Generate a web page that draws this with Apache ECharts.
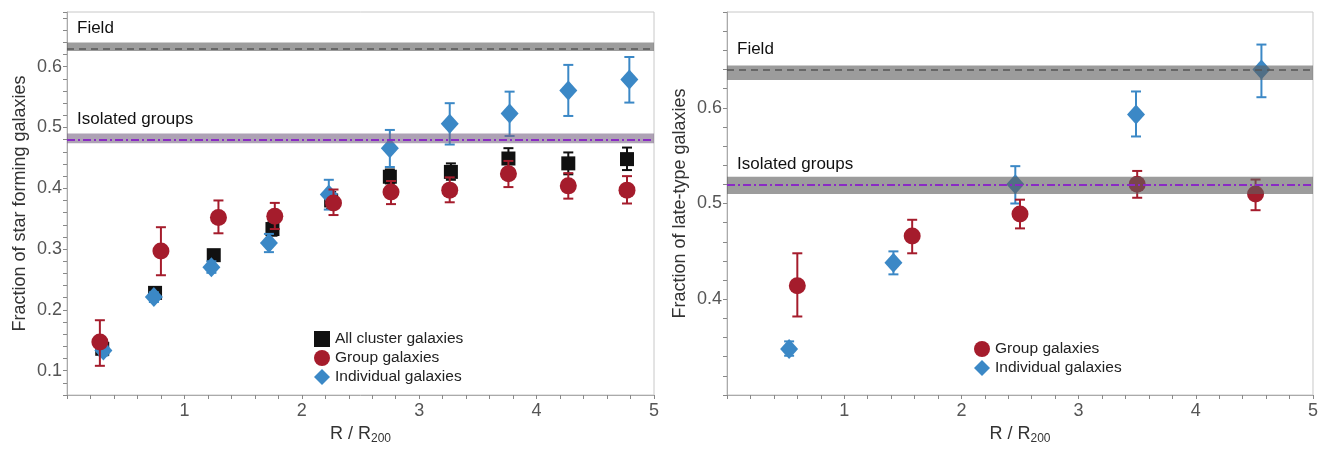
<!DOCTYPE html>
<html>
<head>
<meta charset="utf-8">
<script src="https://cdn.jsdelivr.net/npm/echarts@6/dist/echarts.min.js"></script>
<style>html,body{margin:0;padding:0;background:#fff}#c{width:1321px;height:450px}</style>
</head>
<body>
<div id="c"></div>
<script>
// ---------- Left panel: fraction of star forming galaxies ----------
const leftAllX  = [0.30,0.75,1.25,1.75,2.25,2.75,3.27,3.76,4.27,4.77];
const leftAllY  = [0.136,0.228,0.290,0.333,0.380,0.419,0.427,0.449,0.441,0.448];
const leftAllLo = [0.128,0.220,0.282,0.322,0.366,0.408,0.414,0.432,0.423,0.430];
const leftAllHi = [0.144,0.236,0.298,0.344,0.394,0.431,0.441,0.466,0.459,0.467];

const leftGrpX  = [0.28,0.80,1.29,1.77,2.27,2.76,3.26,3.76,4.27,4.77];
const leftGrpY  = [0.147,0.297,0.352,0.354,0.376,0.394,0.397,0.424,0.404,0.397];
const leftGrpLo = [0.108,0.257,0.326,0.333,0.356,0.374,0.377,0.402,0.383,0.375];
const leftGrpHi = [0.183,0.336,0.380,0.376,0.398,0.412,0.418,0.445,0.425,0.420];

const leftIndX  = [0.31,0.74,1.23,1.72,2.23,2.75,3.26,3.77,4.27,4.79];
const leftIndY  = [0.133,0.221,0.270,0.310,0.390,0.466,0.506,0.523,0.561,0.579];
const leftIndLo = [0.125,0.213,0.261,0.295,0.365,0.435,0.472,0.486,0.519,0.541];
const leftIndHi = [0.141,0.229,0.280,0.325,0.414,0.496,0.540,0.559,0.603,0.616];

const leftField = [0.633, 0.626, 0.640];   // value, band low, band high
const leftIso   = [0.482, 0.474, 0.490];

// ---------- Right panel: fraction of late-type galaxies ----------
const rightGrpX  = [0.60,1.58,2.50,3.50,4.51];
const rightGrpY  = [0.414,0.466,0.489,0.520,0.510];
const rightGrpLo = [0.382,0.448,0.474,0.506,0.493];
const rightGrpHi = [0.448,0.483,0.504,0.534,0.525];

const rightIndX  = [0.53,1.42,2.46,3.49,4.56];
const rightIndY  = [0.348,0.438,0.520,0.593,0.640];
const rightIndLo = [0.341,0.426,0.500,0.570,0.611];
const rightIndHi = [0.356,0.450,0.539,0.617,0.666];

const rightField = [0.637, 0.629, 0.644];
const rightIso   = [0.519, 0.510, 0.528];

const xTickLabels = ['1','2','3','4','5'];
const yLeftLabels = ['0.1','0.2','0.3','0.4','0.5','0.6'];
const yRightLabels = ['0.4','0.5','0.6'];

const NAME_ALL = 'All cluster galaxies';
const NAME_GRP = 'Group galaxies';
const NAME_IND = 'Individual galaxies';

const RED = '#a51c2c', BLUE = '#3b88c6', BLACK = '#111111';
const FONT = 'Liberation Sans, Arial, sans-serif';

function zip(xs, ys) { return xs.map((x, i) => [x, ys[i]]); }
function zip3(xs, lo, hi) { return xs.map((x, i) => [x, lo[i], hi[i]]); }

function errRender(color) {
  return function (params, api) {
    const x = api.value(0), lo = api.value(1), hi = api.value(2);
    const a = api.coord([x, lo]), b = api.coord([x, hi]);
    const w = 5;
    const st = { stroke: color, lineWidth: 2 };
    return { type: 'group', children: [
      { type: 'line', shape: { x1: a[0], y1: a[1], x2: b[0], y2: b[1] }, style: st },
      { type: 'line', shape: { x1: a[0]-w, y1: a[1], x2: a[0]+w, y2: a[1] }, style: st },
      { type: 'line', shape: { x1: b[0]-w, y1: b[1], x2: b[0]+w, y2: b[1] }, style: st }
    ]};
  };
}

function errSeries(name, gi, xs, lo, hi, color, z) {
  return { type: 'custom', name: name, xAxisIndex: gi, yAxisIndex: gi, z: z,
    renderItem: errRender(color), encode: { x: 0, y: [1, 2] },
    data: zip3(xs, lo, hi), silent: true };
}
function ptSeries(name, gi, xs, ys, color, symbol, size, z) {
  return { type: 'scatter', name: name, xAxisIndex: gi, yAxisIndex: gi, z: z,
    symbol: symbol, symbolSize: size, itemStyle: { color: color, opacity: 1 },
    data: zip(xs, ys) };
}
function bandSeries(gi, field, iso, isoBandColor) {
  const lbl = (t) => ({ show: true, formatter: t, position: 'insideStartTop',
    distance: [10, 12], color: '#111', fontSize: 17, fontFamily: FONT });
  return { type: 'line', name: 'bands' + gi, xAxisIndex: gi, yAxisIndex: gi, data: [], z: 6,
    silent: true,
    markArea: { silent: true, z: 10, itemStyle: { color: 'rgba(95,95,95,0.62)' },
      data: [
        [{ yAxis: field[1] }, { yAxis: field[2] }],
        [{ yAxis: iso[1], itemStyle: { color: isoBandColor } }, { yAxis: iso[2] }]
      ] },
    markLine: { silent: true, z: 11, symbol: ['none', 'none'],
      data: [
        { yAxis: field[0], lineStyle: { color: '#555', type: [7, 5], width: 1.5 }, label: lbl('Field') },
        { yAxis: iso[0], lineStyle: { color: '#8a2bc4', type: [8, 3, 2, 3], width: 2 }, label: lbl('Isolated groups') }
      ] }
  };
}

function isMultiple(v, step) { return Math.abs(v / step - Math.round(v / step)) < 1e-6; }

function xAxisDef(gi) {
  return { type: 'value', gridIndex: gi, min: 0, max: 5, interval: 0.2,
    name: 'R / R{sub|200}', nameLocation: 'middle', nameGap: 29,
    nameTextStyle: { color: '#333', fontSize: 18, fontFamily: FONT,
      rich: { sub: { fontSize: 12, color: '#333', fontFamily: FONT, padding: [9, 0, 0, 0] } } },
    axisLine: { show: true, lineStyle: { color: '#aaa', width: 1 } },
    axisTick: { show: true, length: 4, lineStyle: { color: '#888' } },
    splitLine: { show: false },
    axisLabel: { color: '#555', fontSize: 18, fontFamily: FONT, margin: 7,
      formatter: v => { const s = String(Math.round(v)); return (isMultiple(v, 1) && xTickLabels.includes(s)) ? s : ''; } }
  };
}
function yAxisDef(gi, min, max, name, labels) {
  return { type: 'value', gridIndex: gi, min: min, max: max, interval: 0.02,
    name: name, nameLocation: 'middle', nameGap: 38,
    nameTextStyle: { color: '#333', fontSize: 18, fontFamily: FONT },
    axisLine: { show: true, lineStyle: { color: '#aaa', width: 1 } },
    axisTick: { show: true, length: 4, lineStyle: { color: '#888' } },
    splitLine: { show: false },
    axisLabel: { color: '#555', fontSize: 18, fontFamily: FONT, margin: 5, showMaxLabel: true,
      formatter: v => { const s = v.toFixed(1); return (isMultiple(v, 0.1) && labels.includes(s)) ? s : ''; } }
  };
}

const chart = echarts.init(document.getElementById('c'), null, { renderer: 'canvas' });
chart.setOption({
  animation: false,
  backgroundColor: '#fff',
  grid: [
    { left: 67, top: 12, width: 587, height: 390, show: true, borderColor: '#c8c8c8', borderWidth: 1, backgroundColor: 'transparent' },
    { left: 727, top: 12, width: 586, height: 390, show: true, borderColor: '#c8c8c8', borderWidth: 1, backgroundColor: 'transparent' }
  ],
  xAxis: [ xAxisDef(0), xAxisDef(1) ],
  yAxis: [
    yAxisDef(0, 0.06, 0.69, 'Fraction of star forming galaxies', yLeftLabels),
    yAxisDef(1, 0.30, 0.70, 'Fraction of late-type galaxies', yRightLabels)
  ],
  legend: [
    { data: [NAME_ALL, NAME_GRP, NAME_IND], orient: 'vertical', left: 309, top: 326,
      itemWidth: 16, itemHeight: 16, itemGap: 3,
      textStyle: { color: '#222', fontSize: 15.5, fontFamily: FONT } },
    { data: [NAME_GRP, NAME_IND], orient: 'vertical', left: 969, top: 336,
      itemWidth: 16, itemHeight: 16, itemGap: 3,
      textStyle: { color: '#222', fontSize: 15.5, fontFamily: FONT } }
  ],
  series: [
    bandSeries(0, leftField, leftIso, 'rgba(120,100,132,0.6)'),
    bandSeries(1, rightField, rightIso, 'rgba(95,95,95,0.62)'),
    errSeries('errAllL', 0, leftAllX, leftAllLo, leftAllHi, BLACK, 2),
    ptSeries(NAME_ALL, 0, leftAllX, leftAllY, BLACK, 'rect', 14, 2),
    errSeries('errIndL', 0, leftIndX, leftIndLo, leftIndHi, BLUE, 3),
    ptSeries(NAME_IND, 0, leftIndX, leftIndY, BLUE, 'diamond', [18, 20], 3),
    errSeries('errGrpL', 0, leftGrpX, leftGrpLo, leftGrpHi, RED, 4),
    ptSeries(NAME_GRP, 0, leftGrpX, leftGrpY, RED, 'circle', 17, 4),
    errSeries('errIndR', 1, rightIndX, rightIndLo, rightIndHi, BLUE, 3),
    ptSeries(NAME_IND, 1, rightIndX, rightIndY, BLUE, 'diamond', [18, 20], 3),
    errSeries('errGrpR', 1, rightGrpX, rightGrpLo, rightGrpHi, RED, 4),
    ptSeries(NAME_GRP, 1, rightGrpX, rightGrpY, RED, 'circle', 17, 4)
  ]
});
</script>
</body>
</html>
